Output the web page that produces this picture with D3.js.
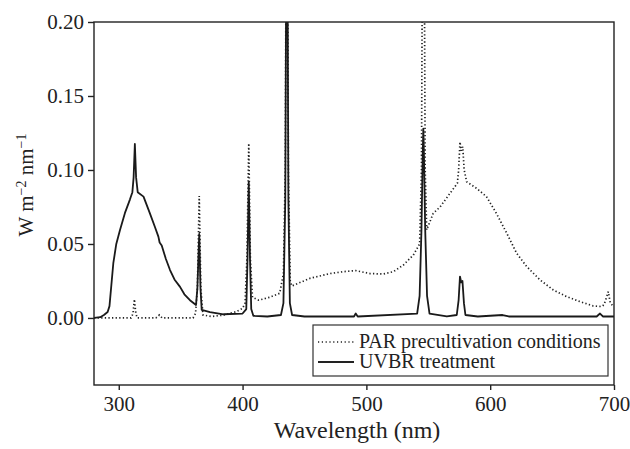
<!DOCTYPE html>
<html><head><meta charset="utf-8">
<script src="https://cdn.jsdelivr.net/npm/d3@7/dist/d3.min.js"></script>
<style>body{margin:0;background:#fff}svg{display:block}</style>
</head><body><svg id="c" width="630" height="449"></svg>
<script>
// UVBR treatment spectrum [wavelength nm, W m-2 nm-1]
const uvbrSeries = [[280,0],[285,0.0005],[288,0.002],[291,0.004],[292.5,0.008],[294,0.022],[295.6,0.037],[298,0.05],[301,0.0595],[305,0.071],[309,0.080],[311,0.085],[312,0.095],[313,0.1176],[314,0.095],[315.3,0.085],[320,0.082],[325,0.071],[329,0.062],[332,0.055],[333,0.051],[334.7,0.049],[338,0.040],[341.4,0.0324],[345,0.026],[349.5,0.021],[353,0.016],[357.5,0.012],[362.4,0.0088],[363.5,0.02],[365,0.0568],[366,0.02],[367,0.0054],[373.7,0.004],[384.5,0.0025],[400,0.003],[403,0.006],[404,0.04],[405,0.092],[406,0.04],[407,0.006],[408.7,0.0015],[420,0.001],[431,0.002],[433,0.01],[434.5,0.08],[435.8,0.35],[437,0.08],[438.2,0.01],[440,0.002],[450,0.001],[490,0.001],[491.4,0.003],[493,0.001],[541,0.003],[543,0.015],[544.5,0.06],[545.5,0.11],[546,0.128],[546.5,0.11],[547.5,0.06],[549,0.015],[551,0.003],[565,0.001],[573,0.002],[574.5,0.012],[575.6,0.028],[576.6,0.024],[577.6,0.025],[578.8,0.01],[580,0.002],[590,0.001],[610,0.002],[615,0.001],[686,0.001],[688.7,0.003],[691,0.001],[700,0.001]];
// PAR precultivation conditions spectrum
const parSeries = [[280,0],[310,0],[311.5,0.003],[312.6,0.0126],[313.8,0.003],[315,0],[330,0],[332.8,0.002],[335,0],[360,0],[362,0.003],[363.5,0.02],[365,0.0824],[366.3,0.02],[368,0.002],[375,0.001],[385,0.002],[395,0.0043],[400,0.0065],[402,0.01],[403.5,0.04],[405,0.118],[406.3,0.04],[408,0.014],[413,0.012],[422,0.014],[430,0.0167],[433,0.03],[434.5,0.1],[435.8,0.40],[437,0.1],[438.5,0.025],[439.7,0.0216],[454.5,0.0268],[470.6,0.030],[481.4,0.0313],[491.4,0.032],[503,0.030],[513.7,0.0297],[521.8,0.0313],[529.9,0.0358],[538,0.0426],[543,0.050],[544.5,0.1],[546,0.40],[547.5,0.1],[548.7,0.0595],[554,0.0707],[559.5,0.075],[567.6,0.0843],[573.5,0.091],[574.5,0.1],[575.6,0.119],[576.6,0.113],[577.8,0.1157],[579,0.1],[581,0.092],[589,0.0876],[597,0.082],[605,0.0707],[613.4,0.0572],[621.4,0.0437],[629.5,0.0347],[640.3,0.0257],[651,0.0189],[661.8,0.0144],[672.6,0.011],[683.3,0.0081],[690,0.0077],[692,0.009],[694,0.014],[695.4,0.0178],[697,0.01],[699.5,0.008],[700,0.008]];
const xTicks = [300,400,500,600,700];
const yTicks = [0,0.05,0.10,0.15,0.20];
const legendLabels = ["PAR precultivation conditions","UVBR treatment"];

const FONT = "'Liberation Serif', Tinos, 'Times New Roman', 'DejaVu Serif', serif";
const L=94,R=614,T=22,B=385;
const svg=d3.select("#c");
const x=d3.scaleLinear().domain([280,700]).range([L,R]);
const y=d3.scaleLinear().domain([-0.0453,0.20]).range([B,T]);

svg.append("defs").append("clipPath").attr("id","pc").append("rect")
  .attr("x",L).attr("y",T).attr("width",R-L).attr("height",B-T);

const line=d3.line().x(d=>x(d[0])).y(d=>y(d[1]));
const g=svg.append("g").attr("clip-path","url(#pc)");
g.append("path").datum(parSeries).attr("d",line).attr("fill","none")
  .attr("stroke","#222").attr("stroke-width",1.7).attr("stroke-dasharray","1.3,2.3");
g.append("path").datum(uvbrSeries).attr("d",line).attr("fill","none")
  .attr("stroke","#1a1a1a").attr("stroke-width",1.8).attr("stroke-linejoin","round");

// frame
svg.append("rect").attr("x",L).attr("y",T).attr("width",R-L).attr("height",B-T)
  .attr("fill","none").attr("stroke","#222").attr("stroke-width",1.4);

const xa=svg.append("g").attr("transform",`translate(0,${B})`)
  .call(d3.axisBottom(x).tickValues(xTicks).tickSize(5).tickPadding(6).tickFormat(d3.format("d")));
const ya=svg.append("g").attr("transform",`translate(${L},0)`)
  .call(d3.axisLeft(y).tickValues(yTicks).tickSize(6).tickPadding(4).tickFormat(d3.format(".2f")));
[xa,ya].forEach(a=>{a.select(".domain").remove();
  a.attr("font-family",FONT).attr("font-size",21);
  a.selectAll("line").attr("stroke","#222").attr("stroke-width",1.4);
  a.selectAll("text").attr("fill","#222");});

svg.append("text").attr("x",357).attr("y",438).attr("text-anchor","middle")
  .attr("font-family",FONT).attr("font-size",24).attr("fill","#222").text("Wavelength (nm)");

const yl=svg.append("text").attr("transform","translate(33,185) rotate(-90)")
  .attr("text-anchor","middle").attr("font-family",FONT).attr("font-size",21).attr("fill","#222");
yl.append("tspan").text("W m");
yl.append("tspan").attr("dy",-7).attr("font-size",14).text("−2");
yl.append("tspan").attr("dy",7).text(" nm");
yl.append("tspan").attr("dy",-7).attr("font-size",14).text("−1");

// legend
const lg=svg.append("g");
lg.append("rect").attr("x",313).attr("y",325).attr("width",295).attr("height",51)
  .attr("fill","#fff").attr("stroke","#333").attr("stroke-width",1.2);
const styles=[{da:"1.2,2.6",w:1.6},{da:null,w:1.8}];
legendLabels.forEach((t,i)=>{
  const cy=342+i*20;
  lg.append("line").attr("x1",318).attr("x2",354).attr("y1",cy).attr("y2",cy)
    .attr("stroke","#222").attr("stroke-width",styles[i].w).attr("stroke-dasharray",styles[i].da);
  lg.append("text").attr("x",359).attr("y",cy+6).attr("font-family",FONT).attr("font-size",20)
    .attr("fill","#222").text(t);
});
</script></body></html>
